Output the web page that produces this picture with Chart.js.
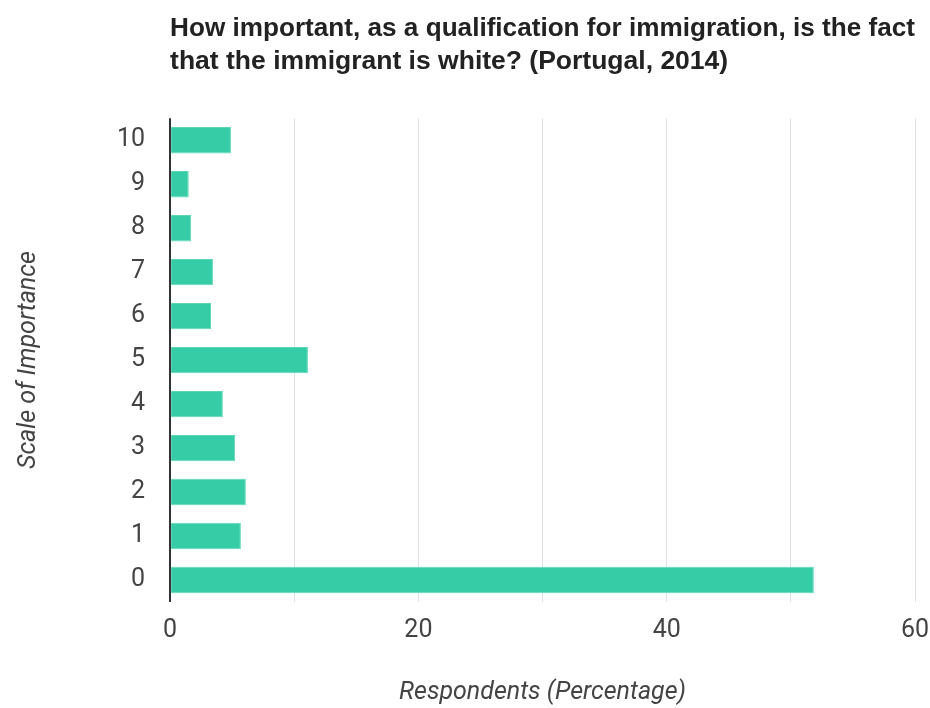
<!DOCTYPE html>
<html>
<head>
<meta charset="utf-8">
<script src="https://cdn.jsdelivr.net/npm/chart.js@4.4.0/dist/chart.umd.min.js"></script>
<style>
  body { margin: 0; background: #fff; }
  #wrap { width: 930px; height: 708px; }
</style>
</head>
<body>
<div id="wrap"><canvas id="chart-1"></canvas></div>
<script>
// scale levels, top to bottom
var scale_labels = ["10", "9", "8", "7", "6", "5", "4", "3", "2", "1", "0"];
// share of respondents (%)
var respondents = [4.9, 1.5, 1.7, 3.45, 3.3, 11.1, 4.25, 5.25, 6.1, 5.7, 51.85];
var x_tick_labels = [0, 20, 40, 60];

var title_lines = [
  "How important, as a qualification for immigration, is the fact",
  "that the immigrant is white? (Portugal, 2014)"
];

const ctx = document.getElementById("chart-1").getContext("2d");
const myChart = new Chart(ctx, {
  type: "bar",
  data: {
    labels: scale_labels,
    datasets: [
      {
        label: "Respondents",
        data: respondents,
        backgroundColor: "#36cca6",
        borderColor: "#5ad8b6",
        borderWidth: 1,
        categoryPercentage: 1,
        barPercentage: 0.6,
      },
    ],
  },
  options: {
    indexAxis: "y",
    responsive: true,
    maintainAspectRatio: false,
    animation: false,
    layout: {
      padding: { left: 12, right: 15, top: 12, bottom: 0 },
    },
    plugins: {
      legend: { display: false },
      tooltip: { enabled: false },
      title: {
        display: true,
        text: title_lines,
        align: "start",
        fullSize: false,
        color: "#222",
        font: { family: "'Liberation Sans', Arial", size: 26.5, weight: "bold", lineHeight: 1.25 },
        padding: { top: 0, bottom: 40 },
      },
    },
    scales: {
      x: {
        min: 0,
        max: 60,
        // let the "60" label hang past the plot like the original
        afterFit: function (scale) {
          scale.paddingRight = 0;
        },
        ticks: {
          stepSize: 10,
          color: "#444",
          font: { family: "Roboto", size: 25 },
          padding: 14,
          callback: function (v) {
            return x_tick_labels.indexOf(v) >= 0 ? v : "";
          },
        },
        grid: {
          drawTicks: false,
          color: function (c) {
            return c.tick && c.tick.value === 0 ? "#333" : "#e2e2e2";
          },
          lineWidth: function (c) {
            return c.tick && c.tick.value === 0 ? 2 : 1;
          },
        },
        border: { display: false },
        title: {
          display: true,
          text: "Respondents (Percentage)",
          color: "#444",
          font: { family: "Roboto", size: 25, style: "italic" },
          padding: { top: 18, bottom: 0 },
        },
      },
      y: {
        ticks: {
          color: "#444",
          font: { family: "Roboto", size: 25 },
          padding: 25,
        },
        grid: { display: false, drawTicks: false },
        border: { display: false },
        title: {
          display: true,
          text: "Scale of Importance",
          color: "#444",
          font: { family: "Roboto", size: 25, style: "italic" },
          padding: { top: 2, bottom: 48 },
        },
      },
    },
  },
});
</script>
</body>
</html>
